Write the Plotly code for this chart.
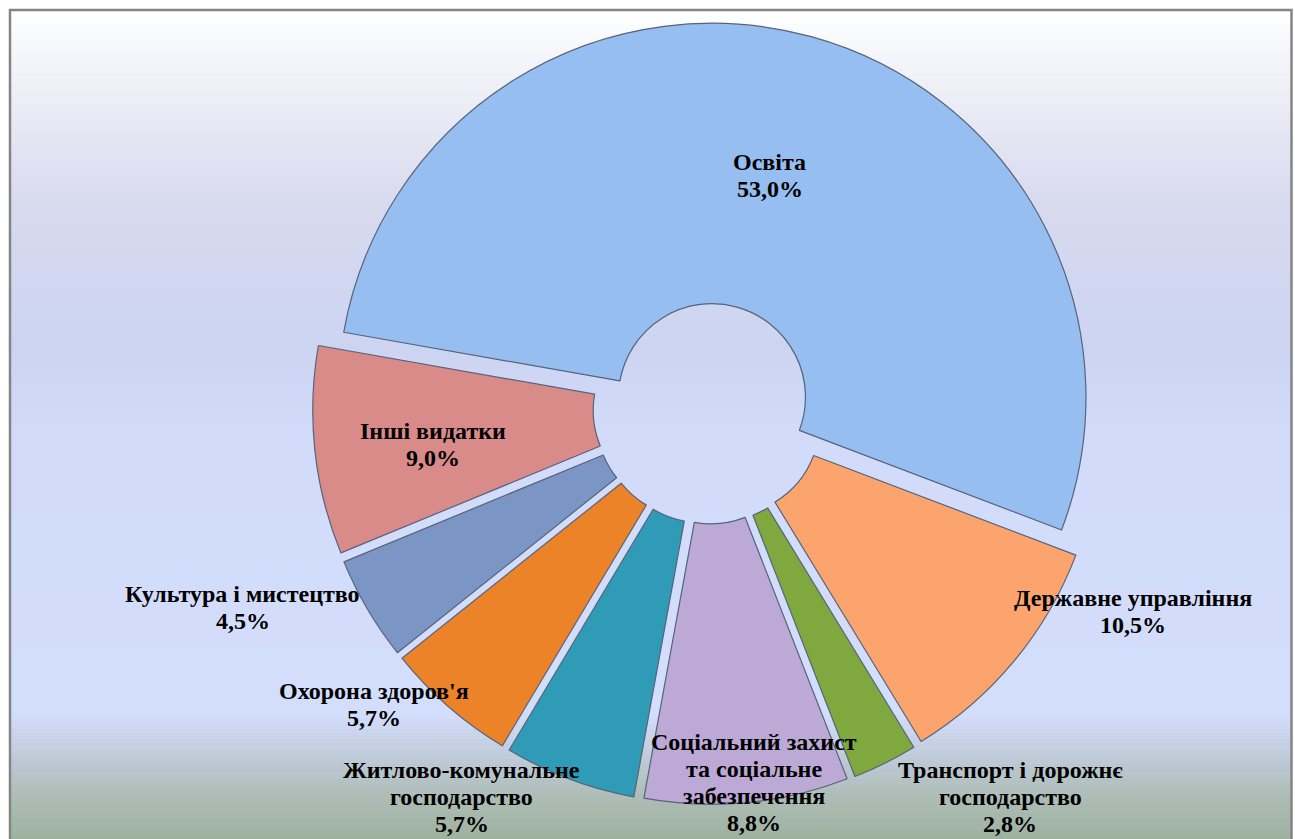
import math
import plotly.graph_objects as go

# ---- data ----
categories = [
    "Освіта",
    "Державне управління",
    "Транспорт і дорожнє<br>господарство",
    "Соціальний захист<br>та соціальне<br>забезпечення",
    "Житлово-комунальне<br>господарство",
    "Охорона здоров'я",
    "Культура і мистецтво",
    "Інші видатки",
]
shares = [53.0, 10.5, 2.8, 8.8, 5.7, 5.7, 4.5, 9.0]

# ---- styles ----
colors = ["#97BEF0", "#FCA46E", "#7FA83E", "#BCA9D5",
          "#2F9BB6", "#EC8329", "#7B95C5", "#D98B89"]
pulls = [0.03, 0.06, 0.06, 0.06, 0.06, 0.06, 0.06, 0.06]
# label placement (polar, relative to each slice's mid-angle and the pie radius)
label_radius = [0.642, 1.257, 1.316, 1.008, 1.232, 1.197, 1.356, 0.745]
label_angle_shift = [-0.7, -14.1, -11.4, -1.3, 11.8, 7.3, 7.3, -1.4]
FONT_SIZE = 24
LINE_H = 27.0

W, H = 1295, 839
ROT = -80
CX, CY, HALF = 709, 408, 396.4
dom_x = [(CX - HALF) / W, (CX + HALF) / W]
dom_y = [1 - (CY + HALF) / H, 1 - (CY - HALF) / H]

fig = go.Figure()
fig.add_trace(go.Pie(
    labels=categories,
    values=shares,
    sort=False,
    direction="clockwise",
    rotation=ROT,
    hole=0.25,
    pull=pulls,
    marker=dict(colors=colors, line=dict(color="#56647A", width=1.2)),
    textinfo="none",
    showlegend=False,
    domain=dict(x=dom_x, y=dom_y),
    hoverinfo="label+percent",
))

# pie geometry as plotly computes it
cx = (dom_x[0] + dom_x[1]) / 2 * W
cy = (1 - (dom_y[0] + dom_y[1]) / 2) * H
r = min((dom_x[1] - dom_x[0]) * W, (dom_y[1] - dom_y[0]) * H) / (2 * (1 + max(pulls)))

total = sum(shares)
annotations = []
cum = 0.0
for lab, v, rf, da in zip(categories, shares, label_radius, label_angle_shift):
    mid = ROT + (cum + v / 2) / total * 360.0 + da
    cum += v
    a = math.radians(mid)
    px = cx + rf * r * math.sin(a)
    py = cy - rf * r * math.cos(a)
    pct = ("%.1f" % (v / total * 100)).replace(".", ",") + "%"
    lines = lab.split("<br>") + [pct]
    n = len(lines)
    for i, ln in enumerate(lines):
        ly = py + (i - (n - 1) / 2) * LINE_H
        annotations.append(dict(
            x=px / W, y=1 - ly / H, xref="paper", yref="paper",
            text="<b>%s</b>" % ln, showarrow=False,
            xanchor="center", yanchor="middle", align="center",
            font=dict(family="Liberation Serif", size=FONT_SIZE, color="black"),
        ))

# gradient background (bands)
stops = [
    (9, (255, 255, 255)),
    (80, (240, 241, 248)),
    (200, (216, 218, 238)),
    (350, (204, 212, 242)),
    (450, (210, 220, 250)),
    (715, (211, 221, 252)),
    (760, (190, 201, 214)),
    (800, (172, 188, 180)),
    (839, (158, 177, 159)),
]


def col_at(y):
    for (y0, c0), (y1, c1) in zip(stops[:-1], stops[1:]):
        if y0 <= y <= y1:
            t = (y - y0) / (y1 - y0)
            return tuple(round(a + (b - a) * t) for a, b in zip(c0, c1))
    return stops[-1][1]


shapes = []
band = 5
y = 9
while y < H:
    y2 = min(y + band, H)
    c = col_at((y + y2) / 2)
    shapes.append(dict(
        type="rect", xref="paper", yref="paper", layer="below",
        x0=10 / W, x1=1291 / W, y0=1 - y2 / H - 0.001, y1=1 - y / H,
        fillcolor="rgb(%d,%d,%d)" % c, line=dict(width=0),
    ))
    y = y2

# frame
shapes.append(dict(
    type="rect", xref="paper", yref="paper", layer="above",
    x0=10 / W, x1=1291.5 / W, y0=-0.01, y1=1 - 10 / H,
    fillcolor="rgba(0,0,0,0)", line=dict(color="#858585", width=2.5),
))

fig.update_layout(
    width=W, height=H,
    autosize=False,
    margin=dict(l=0, r=0, t=0, b=0, pad=0, autoexpand=False),
    paper_bgcolor="white",
    separators=", ",
    shapes=shapes,
    annotations=annotations,
    font=dict(family="Liberation Serif", size=FONT_SIZE, color="black"),
)

fig.write_html(
    "out.html",
    config={"displayModeBar": False},
    post_script="document.body.style.margin='0px';document.body.style.overflow='hidden';",
)
